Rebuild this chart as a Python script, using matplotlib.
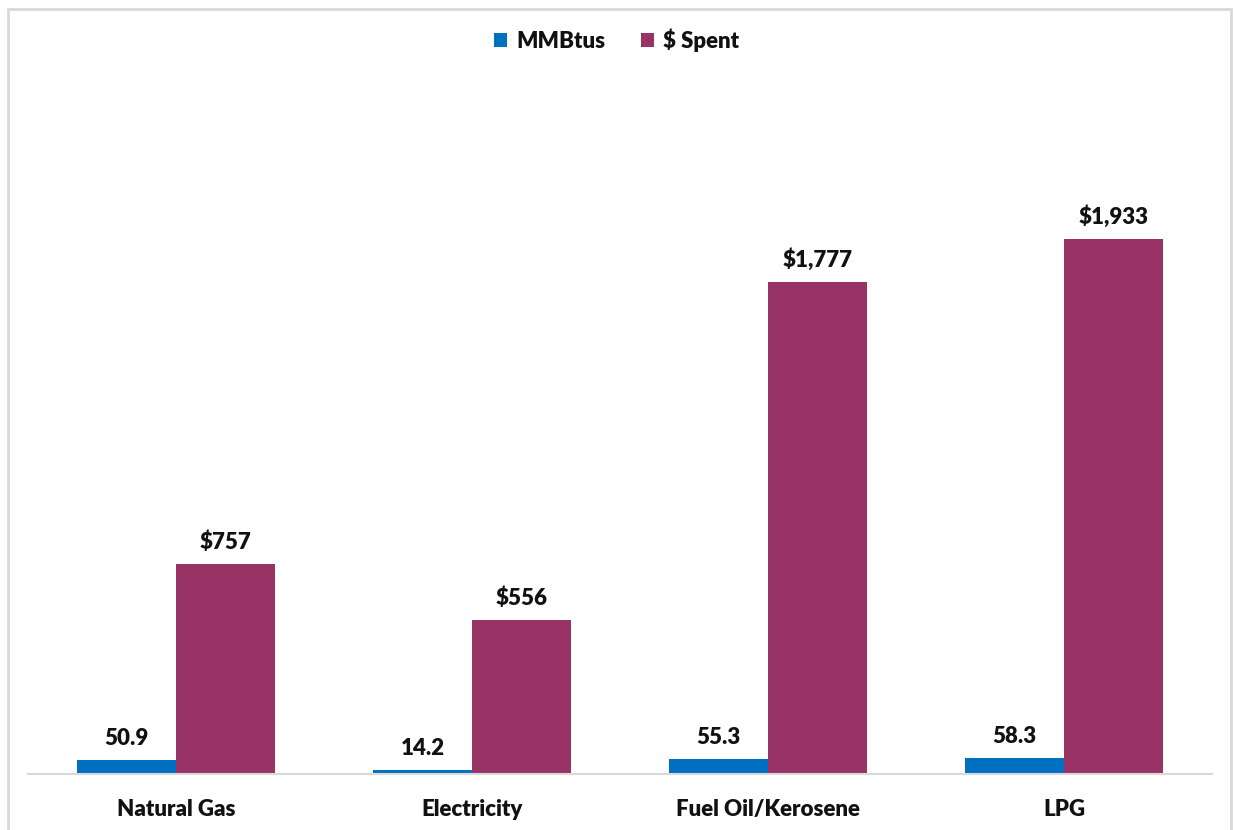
import matplotlib.pyplot as plt
import numpy as np
from matplotlib.patches import Rectangle

categories = ['Natural Gas', 'Electricity', 'Fuel Oil/Kerosene', 'LPG']
mmbtus = [50.9, 14.2, 55.3, 58.3]
spent = [757, 556, 1777, 1933]
mmbtu_labels = ['50.9', '14.2', '55.3', '58.3']
spent_labels = ['$757', '$556', '$1,777', '$1,933']

blue = '#0070C0'
purple = '#993366'

plt.rcParams['font.family'] = ['Lato', 'DejaVu Sans']

fig = plt.figure(figsize=[12.33, 8.3], dpi=100)
ax = fig.add_axes([28/1233, 1-774/830, 1184/1233, (774-82)/830])

x = np.arange(len(categories))
w = 0.335
b1 = ax.bar(x - w/2, mmbtus, w, color=blue, label='MMBtus')
b2 = ax.bar(x + w/2, spent, w, color=purple, label='$ Spent')

# value labels above bars
for bars, labels in [(b1, mmbtu_labels), (b2, spent_labels)]:
    for rect, lab in zip(bars, labels):
        ax.annotate(lab, (rect.get_x() + rect.get_width()/2, rect.get_height()),
                    xytext=(0, 8), textcoords='offset points', ha='center', va='bottom',
                    fontsize=16, fontweight='heavy', color='#111111')

ax.set_xlim(-0.5, 3.5)
ax.set_ylim(0, 2500)
ax.set_xticks(x)
ax.set_xticklabels(categories, fontsize=16, fontweight='heavy', color='#111111')
ax.tick_params(axis='x', length=0, pad=18)
ax.set_yticks([])
for s in ['top', 'left', 'right']:
    ax.spines[s].set_visible(False)
ax.spines['bottom'].set_color('#D9D9D9')
ax.spines['bottom'].set_linewidth(1.5)

leg = fig.legend(loc='center', bbox_to_anchor=(0.5, 1-40/830), ncols=2, frameon=False,
                 prop={'size': 16, 'weight': 'heavy'}, handlelength=0.6, handleheight=0.6,
                 handletextpad=0.4, columnspacing=1.6)
for t in leg.get_texts():
    t.set_color('#111111')

# outer chart border
fig.patches.append(Rectangle((8/1233, -2/830), (1231-8)/1233, 823/830,
                             transform=fig.transFigure, fill=False,
                             edgecolor='#D9D9D9', linewidth=2))

plt.savefig('out.png')
